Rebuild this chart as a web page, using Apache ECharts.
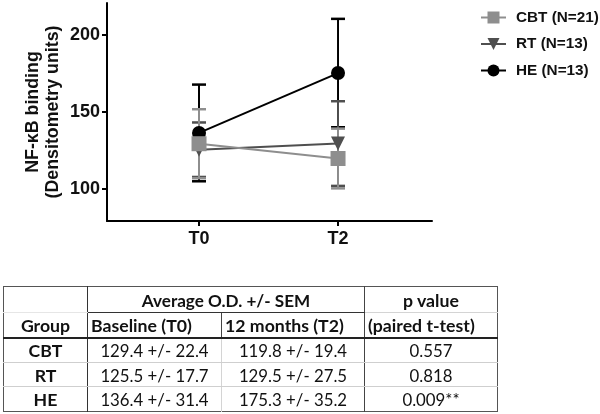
<!DOCTYPE html>
<html>
<head>
<meta charset="utf-8">
<script src="https://cdn.jsdelivr.net/npm/echarts@6/dist/echarts.min.js"></script>
<style>
  html, body { margin:0; padding:0; background:#fff; }
  #chart { position:absolute; left:0; top:0; width:600px; height:414px; }
  #tbl { position:absolute; left:3px; top:286px; border-collapse:collapse; table-layout:fixed;
         font-family:Lato, sans-serif; color:#111; border:1px solid #555; }
  #tbl td { padding:0; padding-top:2px; text-align:center; vertical-align:middle; white-space:nowrap; overflow:hidden; line-height:20px; }
  #tbl .b { font-weight:bold; }
  #tbl .l { text-align:left; padding-left:3px; }
</style>
</head>
<body>
<div id="chart"></div>
<table id="tbl"></table>
<script>
// ---- data ----
const categories = ['T0', 'T2'];
const groups = ['CBT', 'RT', 'HE'];
const legendNames = ['CBT (N=21)', 'RT (N=13)', 'HE (N=13)'];
const cbtMean = [129.4, 119.8];
const cbtSem  = [22.4, 19.4];
const rtMean  = [125.5, 129.5];
const rtSem   = [17.7, 27.5];
const heMean  = [136.4, 175.3];
const heSem   = [31.4, 35.2];
const pValues = ['0.557', '0.818', '0.009**'];
const yTicks  = [100, 150, 200];
const yName   = 'NF-κB binding\n(Densitometry units)';
const tableHeader1 = ['Average O.D. +/- SEM', 'p value'];
const tableHeader2 = ['Group', 'Baseline (T0)', '12 months (T2)', '(paired t-test)'];

const font = '"Liberation Sans", Arial, sans-serif';
const tblFont = 'Lato, sans-serif';
const mctx = document.createElement('canvas').getContext('2d');
function measure(text, weight, family, size) {
  mctx.font = weight + ' ' + size + 'px ' + family;
  return mctx.measureText(text).width;
}
function fitSize(text, weight, family, targetW) {
  return Math.round(20 * targetW / measure(text, weight, family, 20) * 10) / 10;
}

function build() {
  const legendSize = fitSize('CBT (N=21)', 'bold', font, 83);
  const tickSize = fitSize('200', 'bold', font, 30);
  const nameSize = fitSize('(Densitometry units)', 'bold', font, 173);
  const cellSize = fitSize('129.4 +/- 22.4', 'normal', tblFont, 108);
  const headSize = fitSize('(paired t-test)', 'bold', tblFont, 107);
  const avgSize = fitSize(tableHeader1[0], 'bold', tblFont, 168);

  const colors = { CBT: '#8e8e8e', RT: '#4f4f4f', HE: '#000000' };
  const means = { CBT: cbtMean, RT: rtMean, HE: heMean };
  const sems = { CBT: cbtSem, RT: rtSem, HE: heSem };
  const symbols = { CBT: 'rect', RT: 'triangle', HE: 'circle' };
  const symSize = { CBT: 15, RT: 14, HE: 14 };
  const symRot = { CBT: 0, RT: 180, HE: 0 };
  const drawOrder = ['HE', 'RT', 'CBT'];
  const series = [];
  drawOrder.forEach(g => {
    const c = colors[g];
    series.push({
      name: g + ' err', type: 'custom', z: 2, silent: true,
      data: categories.map((_, i) => [i, means[g][i] - sems[g][i], means[g][i] + sems[g][i]]),
      renderItem: function (params, api) {
        const x = api.value(0);
        const lo = api.coord([x, api.value(1)]);
        const hi = api.coord([x, api.value(2)]);
        const w = 7;
        return { type: 'group', children: [
          { type: 'line', shape: { x1: lo[0], y1: lo[1], x2: hi[0], y2: hi[1] }, style: { stroke: c, lineWidth: 2 } },
          { type: 'line', shape: { x1: lo[0] - w, y1: lo[1], x2: lo[0] + w, y2: lo[1] }, style: { stroke: c, lineWidth: 2.5 } },
          { type: 'line', shape: { x1: hi[0] - w, y1: hi[1], x2: hi[0] + w, y2: hi[1] }, style: { stroke: c, lineWidth: 2.5 } }
        ]};
      }
    });
  });
  drawOrder.forEach(g => {
    const c = colors[g];
    series.push({
      name: legendNames[groups.indexOf(g)], type: 'line', z: 3,
      data: categories.map((_, i) => [i, means[g][i]]),
      symbol: symbols[g], symbolSize: symSize[g], symbolRotate: symRot[g], showAllSymbol: true,
      itemStyle: { color: c, opacity: 1 }, lineStyle: { color: c, width: 2 },
      emphasis: { disabled: true }, animation: false
    });
  });

  const chart = echarts.init(document.getElementById('chart'), null, { renderer: 'canvas' });
  chart.setOption({
    animation: false,
    backgroundColor: '#fff',
    grid: { left: 107, top: 3, width: 325, height: 218, containLabel: false, outerBoundsMode: 'none' },
    legend: {
      data: legendNames, orient: 'vertical', left: 475, top: 5,
      itemWidth: 25, itemHeight: 15, itemGap: 11.5,
      textStyle: { fontFamily: font, fontWeight: 'bold', fontSize: legendSize, color: '#111', lineHeight: 15, padding: [0, 0, 0, 5] }
    },
    xAxis: {
      type: 'value', min: -0.662, max: 1.676, splitLine: { show: false },
      axisLine: { show: true, onZero: false, lineStyle: { color: '#000', width: 2 } },
      axisTick: { show: true, customValues: [0, 1], length: 5, lineStyle: { color: '#000', width: 2 } },
      axisLabel: { customValues: [0, 1], formatter: v => categories[Math.round(v)], fontFamily: font, fontWeight: 'bold', fontSize: tickSize, color: '#111', margin: 9 }
    },
    yAxis: {
      type: 'value', min: 79.2, max: 220.8, splitLine: { show: false },
      name: yName, nameLocation: 'middle', nameRotate: 90, nameGap: 44, nameMoveOverlap: false,
      nameTextStyle: { fontFamily: font, fontWeight: 'bold', fontSize: nameSize, color: '#111', lineHeight: 20 },
      axisLine: { show: true, onZero: false, lineStyle: { color: '#000', width: 2 } },
      axisTick: { show: true, customValues: yTicks, length: 5, lineStyle: { color: '#000', width: 2 } },
      axisLabel: { customValues: yTicks, fontFamily: font, fontWeight: 'bold', fontSize: tickSize, color: '#111', margin: 7 }
    },
    series: series
  });

  const tbl = document.getElementById('tbl');
  tbl.style.fontSize = cellSize + 'px';
  const colW = [84, 134, 143, 133];
  let html = '<colgroup>' + colW.map(w => '<col style="width:' + w + 'px">').join('') + '</colgroup>';
  const darkV = '1.5px solid #333';
  const lightV = '1px solid #d4d4d4';
  const hs = 'font-size:' + headSize + 'px;';
  html += '<tr style="height:26px">' +
    '<td style="border-right:' + darkV + ';border-bottom:1px solid #e6e6e6"></td>' +
    '<td colspan="2" class="b" style="font-size:' + avgSize + 'px;border-right:1px solid #444;border-bottom:1.5px solid #333">' + tableHeader1[0] + '</td>' +
    '<td class="b" style="' + hs + 'border-bottom:1px solid #d4d4d4">' + tableHeader1[1] + '</td></tr>';
  html += '<tr style="height:25px">' +
    '<td class="b" style="' + hs + 'border-right:' + darkV + ';border-bottom:2px solid #222">' + tableHeader2[0] + '</td>' +
    '<td class="b l" style="' + hs + 'border-right:1px solid #444;border-bottom:2px solid #222">' + tableHeader2[1] + '</td>' +
    '<td class="b l" style="' + hs + 'border-right:1px solid #444;border-bottom:2px solid #222">' + tableHeader2[2] + '</td>' +
    '<td class="b l" style="' + hs + 'border-bottom:2px solid #222">' + tableHeader2[3] + '</td></tr>';
  const fmt = (m, s) => m.toFixed(1) + ' +/- ' + s.toFixed(1);
  groups.forEach((g, r) => {
    const last = r === groups.length - 1;
    const bb = last ? '' : 'border-bottom:1px solid #cfcfcf;';
    html += '<tr style="height:' + (r === 1 ? 24 : 25) + 'px">' +
      '<td class="b" style="' + hs + 'border-right:' + darkV + ';' + bb + '">' + g + '</td>' +
      '<td style="border-right:' + lightV + ';' + bb + '">' + fmt(means[g][0], sems[g][0]) + '</td>' +
      '<td style="border-right:1px solid #444;' + bb + '">' + fmt(means[g][1], sems[g][1]) + '</td>' +
      '<td style="' + bb + '">' + pValues[r] + '</td></tr>';
  });
  tbl.innerHTML = html;
}

Promise.all([
  document.fonts.load('bold 20px "Liberation Sans"'),
  document.fonts.load('20px Lato'),
  document.fonts.load('bold 20px Lato')
]).then(build, build);
</script>
</body>
</html>
